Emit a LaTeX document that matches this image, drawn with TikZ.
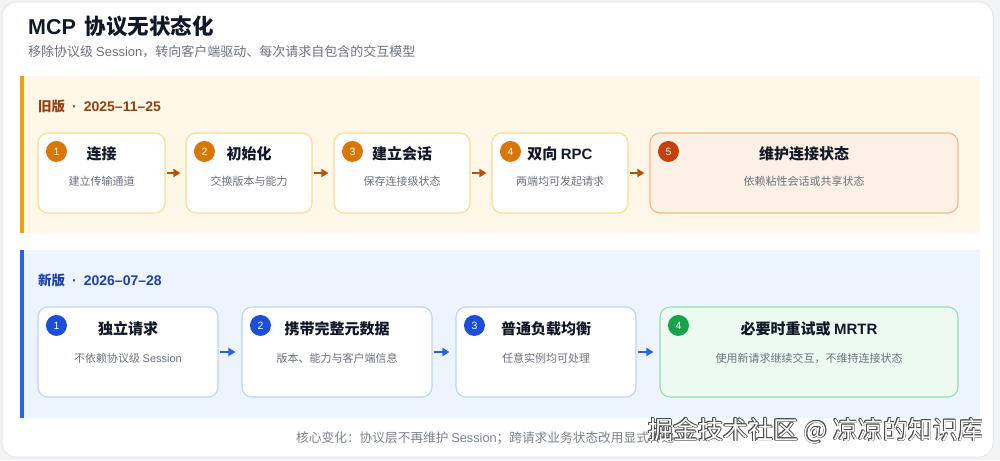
\documentclass[tikz,border=0pt]{standalone}
\usepackage{fontspec}
\setmainfont{Noto Sans CJK SC}
\newfontfamily\latf{Liberation Sans}
\newcommand{\lt}[1]{{\latf #1}}
\usetikzlibrary{arrows.meta,calc}
\definecolor{pagebg}{HTML}{F2F3F5}
\definecolor{cardborder}{HTML}{E3E6EA}
\definecolor{titlec}{HTML}{111827}
\definecolor{subc}{HTML}{6B7280}
\definecolor{oldbg}{HTML}{FFF8E8}
\definecolor{oldbar}{HTML}{F59E0B}
\definecolor{oldlabel}{HTML}{92400E}
\definecolor{oldborder}{HTML}{FBDB8E}
\definecolor{oldbadge}{HTML}{D97706}
\definecolor{oldfivefill}{HTML}{FDF0E4}
\definecolor{oldfiveborder}{HTML}{F3B888}
\definecolor{oldfivebadge}{HTML}{C2410C}
\definecolor{oldarrow}{HTML}{B45309}
\definecolor{newbg}{HTML}{EEF4FD}
\definecolor{newbar}{HTML}{2563EB}
\definecolor{newlabel}{HTML}{1E40AF}
\definecolor{newborder}{HTML}{BBD5F5}
\definecolor{newbadge}{HTML}{1D4ED8}
\definecolor{newfourfill}{HTML}{EDFAF1}
\definecolor{newfourborder}{HTML}{90E0AB}
\definecolor{newfourbadge}{HTML}{16A34A}
\definecolor{newarrow}{HTML}{2563EB}
\definecolor{footc}{HTML}{7B8190}
\definecolor{wmedge}{HTML}{4B4B4B}
\tikzset{
  oldbox/.style={draw=oldborder, fill=white, line width=1.1pt, rounded corners=10pt, minimum height=80pt, inner sep=0pt},
  newbox/.style={draw=newborder, fill=white, line width=1.1pt, rounded corners=10pt, minimum height=90pt, inner sep=0pt},
  badge/.style={circle, minimum size=21pt, inner sep=0pt, text=white, font=\fontsize{10.5}{10.5}\selectfont\latf},
  boxtitle/.style={anchor=base, text=titlec, font=\fontsize{15}{17}\selectfont\bfseries, inner sep=0pt},
  boxsub/.style={anchor=base, text=subc, font=\fontsize{11}{13}\selectfont, inner sep=0pt},
  oldarr/.style={draw=oldarrow, line width=1.8pt, -{Triangle[length=7pt,width=8pt]}, shorten <=1pt, shorten >=5pt},
  newarr/.style={draw=newarrow, line width=1.8pt, -{Triangle[length=7pt,width=8pt]}, shorten <=1pt, shorten >=6pt},
  seclabel/.style={anchor=base west, font=\fontsize{13.5}{15}\selectfont\bfseries, inner sep=0pt},
  wm/.style={anchor=base west, font=\fontsize{25}{27}\selectfont, inner sep=0pt}
}
\begin{document}
\begin{tikzpicture}[x=1pt,y=-1pt]
\useasboundingbox (0,0) rectangle (1000,460);
\fill[pagebg] (0,0) rectangle (1000,460);
\draw[draw=cardborder, fill=white, line width=1pt, rounded corners=14pt] (2,2) rectangle (993,457);

% header
\node[anchor=base west, inner sep=0pt, text=titlec, font=\fontsize{21.5}{24}\selectfont\bfseries] (title) at (28,35) {\lt{MCP}\hspace{9pt}协议无状态化};
\node[anchor=base west, inner sep=0pt, text=subc, font=\fontsize{13}{15}\selectfont] (subtitle) at (28,56.5) {移除协议级 \lt{Session}，转向客户端驱动、每次请求自包含的交互模型};

% old section
\fill[oldbg] (20,76) rectangle (980,233);
\fill[oldbar] (20,76) rectangle (23.5,233);
\node[seclabel, text=oldlabel] (oldlab) at (38,111) {旧版{\latf\fontsize{14}{15}\selectfont\hspace{7pt}\textperiodcentered\hspace{7pt}2025–11–25}};

\node[oldbox, minimum width=127pt] (o1) at (101.5,173) {};
\node[oldbox, minimum width=126pt] (o2) at (249,173) {};
\node[oldbox, minimum width=136pt] (o3) at (402,173) {};
\node[oldbox, minimum width=136pt] (o4) at (560,173) {};
\node[oldbox, minimum width=308pt, fill=oldfivefill, draw=oldfiveborder] (o5) at (804,173) {};

\foreach \i/\c in {1/oldbadge,2/oldbadge,3/oldbadge,4/oldbadge,5/oldfivebadge}{
  \node[badge, fill=\c] (ob\i) at ($(o\i.north west)+(19,19)$) {\i};
}
\node[boxtitle] (ot1) at ($(o1.north)+(0,27)$) {连接};
\node[boxsub] (os1) at ($(o1.north)+(0,53)$) {建立传输通道};
\node[boxtitle] (ot2) at ($(o2.north)+(0,27)$) {初始化};
\node[boxsub] (os2) at ($(o2.north)+(0,53)$) {交换版本与能力};
\node[boxtitle] (ot3) at ($(o3.north)+(0,27)$) {建立会话};
\node[boxsub] (os3) at ($(o3.north)+(0,53)$) {保存连接级状态};
\node[boxtitle] (ot4) at ($(o4.north)+(0,27)$) {双向 \lt{RPC}};
\node[boxsub] (os4) at ($(o4.north)+(0,53)$) {两端均可发起请求};
\node[boxtitle] (ot5) at ($(o5.north)+(0,27)$) {维护连接状态};
\node[boxsub] (os5) at ($(o5.north)+(0,53)$) {依赖粘性会话或共享状态};

\draw[oldarr] (o1.east) -- (o2.west);
\draw[oldarr] (o2.east) -- (o3.west);
\draw[oldarr] (o3.east) -- (o4.west);
\draw[oldarr] (o4.east) -- (o5.west);

% new section
\fill[newbg] (20,250) rectangle (980,418);
\fill[newbar] (20,250) rectangle (23.5,418);
\node[seclabel, text=newlabel] (newlab) at (38,285.5) {新版{\latf\fontsize{14}{15}\selectfont\hspace{7pt}\textperiodcentered\hspace{7pt}2026–07–28}};

\node[newbox, minimum width=180pt] (n1) at (128,352) {};
\node[newbox, minimum width=190pt] (n2) at (337,352) {};
\node[newbox, minimum width=180pt] (n3) at (546,352) {};
\node[newbox, minimum width=298pt, fill=newfourfill, draw=newfourborder] (n4) at (809,352) {};

\foreach \i/\c in {1/newbadge,2/newbadge,3/newbadge,4/newfourbadge}{
  \node[badge, fill=\c] (nb\i) at ($(n\i.north west)+(19,19)$) {\i};
}
\node[boxtitle] (nt1) at ($(n1.north)+(0,28.5)$) {独立请求};
\node[boxsub] (ns1) at ($(n1.north)+(0,56)$) {不依赖协议级 \lt{Session}};
\node[boxtitle] (nt2) at ($(n2.north)+(0,28.5)$) {携带完整元数据};
\node[boxsub] (ns2) at ($(n2.north)+(0,56)$) {版本、能力与客户端信息};
\node[boxtitle] (nt3) at ($(n3.north)+(0,28.5)$) {普通负载均衡};
\node[boxsub] (ns3) at ($(n3.north)+(0,56)$) {任意实例均可处理};
\node[boxtitle] (nt4) at ($(n4.north)+(0,28.5)$) {必要时重试或 \lt{MRTR}};
\node[boxsub] (ns4) at ($(n4.north)+(0,56)$) {使用新请求继续交互，不维持连接状态};

\draw[newarr] (n1.east) -- (n2.west);
\draw[newarr] (n2.east) -- (n3.west);
\draw[newarr] (n3.east) -- (n4.west);

% footer
\node[anchor=base west, inner sep=0pt, text=footc, font=\fontsize{12.7}{14}\selectfont] (footer) at (296,442) {核心变化：协议层不再维护 \lt{Session}；跨请求业务状态改用显式传递};

% watermark
\foreach \dx/\dy in {-0.7/0,0.7/0,0/-0.7,0/0.7,-0.5/-0.5,0.5/0.5,-0.5/0.5,0.5/-0.5,0.9/0.9}{
  \node[wm, text=wmedge] at (648+\dx,439+\dy) {掘金技术社区 @ 凉凉的知识库};
}
\node[wm, text=white] (watermark) at (648,439) {掘金技术社区 @ 凉凉的知识库};
\end{tikzpicture}
\end{document}
